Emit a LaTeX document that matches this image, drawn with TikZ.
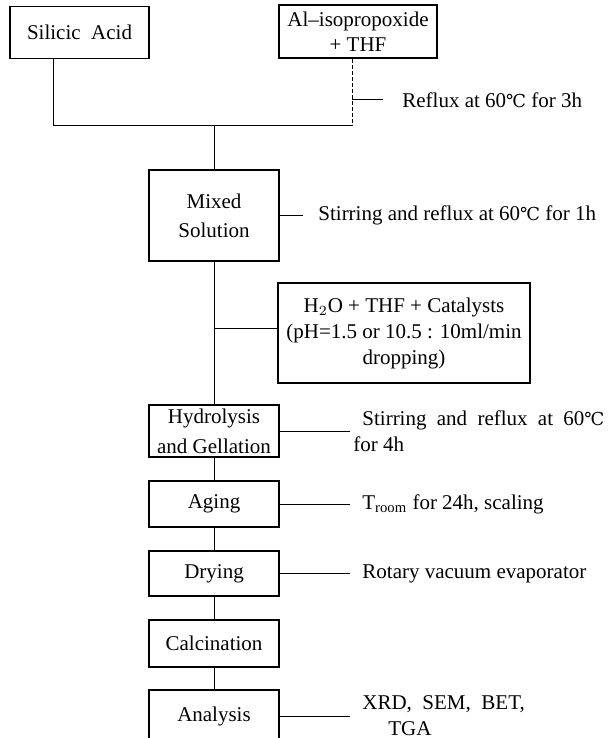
\documentclass[tikz,border=0pt]{standalone}
\usepackage{fontspec}
\setmainfont{Liberation Serif}
\newfontfamily\symfont[Scale=0.85]{DejaVu Serif}
\newcommand{\degC}{{\symfont\char"2103}}
\usetikzlibrary{calc}

\begin{document}
\begin{tikzpicture}[x=0.5pt,y=-0.5pt,
stage/.style={rectangle,draw=black,line width=0.65pt,inner sep=1pt,align=center,font=\fontsize{10.5}{14.5}\selectfont},
note/.style={anchor=west,inner ysep=0pt,inner xsep=6pt,align=left,font=\fontsize{10.5}{13}\selectfont}]
\clip (0,0) rectangle (612,738);
\node[stage,minimum width=69.5pt,minimum height=26pt](silicic) at (79.5,32.5){Silicic\ \ Acid};
\node[stage,minimum width=79pt,minimum height=26.5pt,font=\fontsize{10.5}{12.5}\selectfont](alkox) at (358,31.5){Al--isopropoxide\\+ THF};
\node[stage,minimum width=65pt,minimum height=45.5pt](mixed) at (214,215.5){Mixed\\Solution};
\node[stage,minimum width=126pt,minimum height=50pt,font=\fontsize{10.5}{13}\selectfont](water) at (404,333){H$_2$O + THF + Catalysts\\(pH=1.5 or 10.5 : 10ml/min\\dropping)};
\node[stage,minimum width=65pt,minimum height=26pt,font=\fontsize{10.5}{15}\selectfont](hydro) at (214,431){Hydrolysis\\and Gellation};
\node[stage,minimum width=65pt,minimum height=23pt](aging) at (214,504){Aging};
\node[stage,minimum width=65pt,minimum height=22.5pt](drying) at (214,573.5){Drying};
\node[stage,minimum width=65pt,minimum height=23.5pt](calc) at (214,643.5){Calcination};
\node[stage,minimum width=65pt,minimum height=26pt](analysis) at (214,716){Analysis};
\coordinate(sil-out) at (53,125);
\coordinate(al-out) at (352,125);
\coordinate(join) at (214,125);
\coordinate(reflux-pt) at (352,100);
\coordinate(water-pt) at (214,328);
\node[note,inner xsep=9.5pt](reflux) at (383,100){Reflux at 60\degC{} for 3h};
\node[note,inner xsep=7.5pt](stir1) at (303,215.5){Stirring and reflux at 60\degC{} for 1h};
\node[note,inner xsep=1.5pt](stir4) at (350,431){\hspace*{4.5pt}\makebox[121pt][s]{Stirring and reflux at 60\degC}\\for 4h};
\node[note](troom) at (350,504){T\textsubscript{room} for 24h, scaling};
\node[note](rotary) at (350,574){Rotary vacuum evaporator};
\node[note](xrd) at (350,716){XRD,\ \ SEM,\ \ BET,\\\hspace*{13pt}TGA};
\begin{scope}[line width=0.5pt]
 \draw (silicic.south -| sil-out)--(sil-out)--(al-out);
 \draw[dash pattern=on 2pt off 1pt] (alkox.south -| al-out)--(al-out);
 \draw (join)--(mixed);
 \draw (reflux-pt)--(reflux-pt -| reflux.west);
 \draw (mixed.east)--(mixed.east -| stir1.west);
 \draw (mixed)--(hydro);
 \draw (water-pt)--(water-pt -| water.west);
 \draw (hydro.east)--(hydro.east -| stir4.west);
 \draw (hydro)--(aging);
 \draw (aging.east)--(aging.east -| troom.west);
 \draw (aging)--(drying);
 \draw (drying.east)--(drying.east -| rotary.west);
 \draw (drying)--(calc);
 \draw (calc)--(analysis);
 \draw (analysis.east)--(analysis.east -| xrd.west);
\end{scope}
\end{tikzpicture}
\end{document}
